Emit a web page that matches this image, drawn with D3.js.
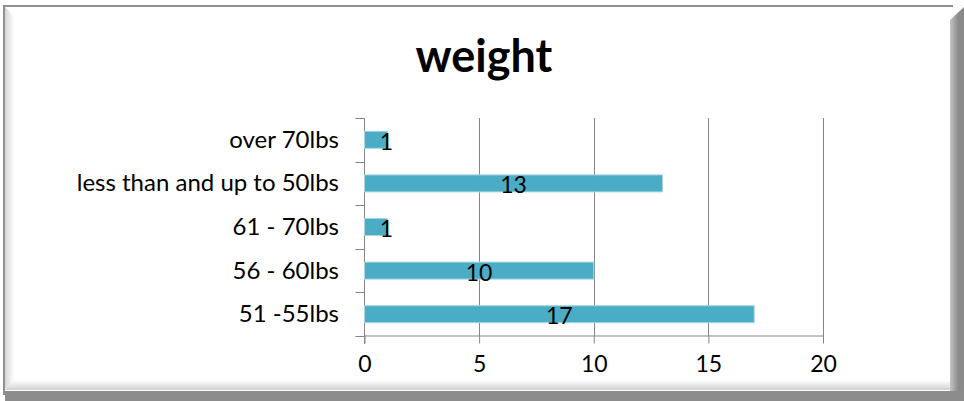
<!DOCTYPE html>
<html>
<head>
<meta charset="utf-8">
<script src="https://cdn.jsdelivr.net/npm/d3@7"></script>
<style>
  body { margin: 0; background: #fff; }
  svg text { font-family: Lato, "Open Sans", sans-serif; fill: #000; }
</style>
</head>
<body>
<svg id="chart" width="964" height="401"></svg>
<script>
// categories bottom -> top, as Excel draws them
const categories = ['51 -55lbs', '56 - 60lbs', '61 - 70lbs', 'less than and up to 50lbs', 'over 70lbs'];
const values = [17, 10, 1, 13, 1];
const xTicks = [0, 5, 10, 15, 20];
const title = 'weight';

const svg = d3.select('#chart');
const W = 964, H = 401;

// frame + shadow, like the excel chart area bevel
const defs = svg.append('defs');
const gr = defs.append('linearGradient').attr('id', 'gr').attr('x1', 0).attr('x2', 1);
gr.append('stop').attr('offset', 0).attr('stop-color', '#c4c4c4');
gr.append('stop').attr('offset', 0.6).attr('stop-color', '#8a8a8a');
const gl = defs.append('linearGradient').attr('id', 'gl').attr('x1', 0).attr('x2', 1);
gl.append('stop').attr('offset', 0).attr('stop-color', '#d6d6d6');
gl.append('stop').attr('offset', 1).attr('stop-color', '#ffffff');
const gb = defs.append('linearGradient').attr('id', 'gb').attr('x1', 0).attr('x2', 0).attr('y1', 0).attr('y2', 1);
gb.append('stop').attr('offset', 0).attr('stop-color', '#ffffff');
gb.append('stop').attr('offset', 1).attr('stop-color', '#d0d0d0');

svg.append('rect').attr('width', W).attr('height', H).attr('fill', '#fff');
// left inner bevel
svg.append('path').attr('d', 'M5,7 L14,16 L14,380 L5,390 Z').attr('fill', 'url(#gl)');
// bottom inner bevel
svg.append('path').attr('d', 'M5,390 L14,380 L950,380 L950,390 Z').attr('fill', 'url(#gb)');
// right shadow
svg.append('path').attr('d', 'M950,20 L964,7 L964,401 L950,401 Z').attr('fill', 'url(#gr)');
// bottom shadow
svg.append('path').attr('d', 'M5,391 L950,391 L964,391 L964,401 L5,401 Z').attr('fill', '#8c8c8c');
// top + left border
svg.append('rect').attr('x', 3).attr('y', 5).attr('width', 950).attr('height', 2).attr('fill', '#909090');
svg.append('rect').attr('x', 3).attr('y', 5).attr('width', 2).attr('height', 390).attr('fill', '#909090');

// title
svg.append('text')
  .attr('x', 484)
  .attr('y', 72)
  .attr('text-anchor', 'middle')
  .style('font-size', '45px')
  .style('font-weight', 'bold')
  .text(title);

const plotLeft = 364.5, plotRight = 823, plotTop = 118, plotBottom = 336;

const xScale = d3.scaleLinear().domain([0, 20]).range([plotLeft, plotRight]);
const yBand = d3.scaleBand().domain(categories).range([plotBottom, plotTop]);
const yBar = d3.scaleBand().domain(categories).range([plotBottom, plotTop])
  .paddingInner(0.61).paddingOuter(0.305);

const axisColor = '#868686';

// vertical grid lines
svg.append('g')
  .selectAll('line')
  .data(xTicks.slice(1))
  .enter()
  .append('line')
  .attr('x1', d => Math.round(xScale(d)) + 0.5)
  .attr('x2', d => Math.round(xScale(d)) + 0.5)
  .attr('y1', plotTop)
  .attr('y2', plotBottom)
  .attr('stroke', axisColor);

// x axis
const xAxis = svg.append('g')
  .attr('transform', `translate(0, ${plotBottom - 0.5})`)
  .call(d3.axisBottom(xScale).tickValues(xTicks).tickSize(8).tickSizeOuter(0).tickPadding(12));
xAxis.select('.domain').attr('stroke', axisColor);
xAxis.selectAll('.tick line').attr('stroke', axisColor);
xAxis.selectAll('.tick text')
  .style('font-size', '23px')
  .style('font-family', 'Lato, sans-serif')
  .attr('fill', '#000');

// y axis: line + ticks on category boundaries
svg.append('line')
  .attr('x1', plotLeft).attr('x2', plotLeft)
  .attr('y1', plotTop).attr('y2', plotBottom + 8)
  .attr('stroke', axisColor);
const bounds = categories.map(c => yBand(c)).concat([plotBottom]);
svg.append('g')
  .selectAll('line')
  .data(bounds)
  .enter()
  .append('line')
  .attr('x1', plotLeft - 9)
  .attr('x2', plotLeft)
  .attr('y1', d => Math.round(d) + 0.5)
  .attr('y2', d => Math.round(d) + 0.5)
  .attr('stroke', axisColor);

// category labels
svg.append('g')
  .selectAll('text')
  .data(categories)
  .enter()
  .append('text')
  .attr('x', 339)
  .attr('y', d => yBand(d) + yBand.bandwidth() / 2 + 8)
  .attr('text-anchor', 'end')
  .style('font-size', '24px')
  .text(d => d);

const rows = categories.map((c, i) => ({ cat: c, val: values[i] }));

// bars
svg.append('g')
  .selectAll('rect')
  .data(rows)
  .enter()
  .append('rect')
  .attr('x', xScale(0))
  .attr('y', d => yBar(d.cat))
  .attr('width', d => xScale(d.val) - xScale(0))
  .attr('height', yBar.bandwidth())
  .attr('fill', '#4bacc6')
  .attr('stroke', '#a9d6e3')
  .attr('stroke-width', 1);

// value labels
svg.append('g')
  .selectAll('text')
  .data(rows)
  .enter()
  .append('text')
  .attr('x', d => {
    const w = xScale(d.val) - xScale(0);
    return w < 40 ? xScale(d.val) - 1 : xScale(0) + w / 2;
  })
  .attr('y', d => yBar(d.cat) + yBar.bandwidth() / 2 + 10)
  .attr('text-anchor', 'middle')
  .style('font-size', '23px')
  .text(d => d.val);
</script>
</body>
</html>
